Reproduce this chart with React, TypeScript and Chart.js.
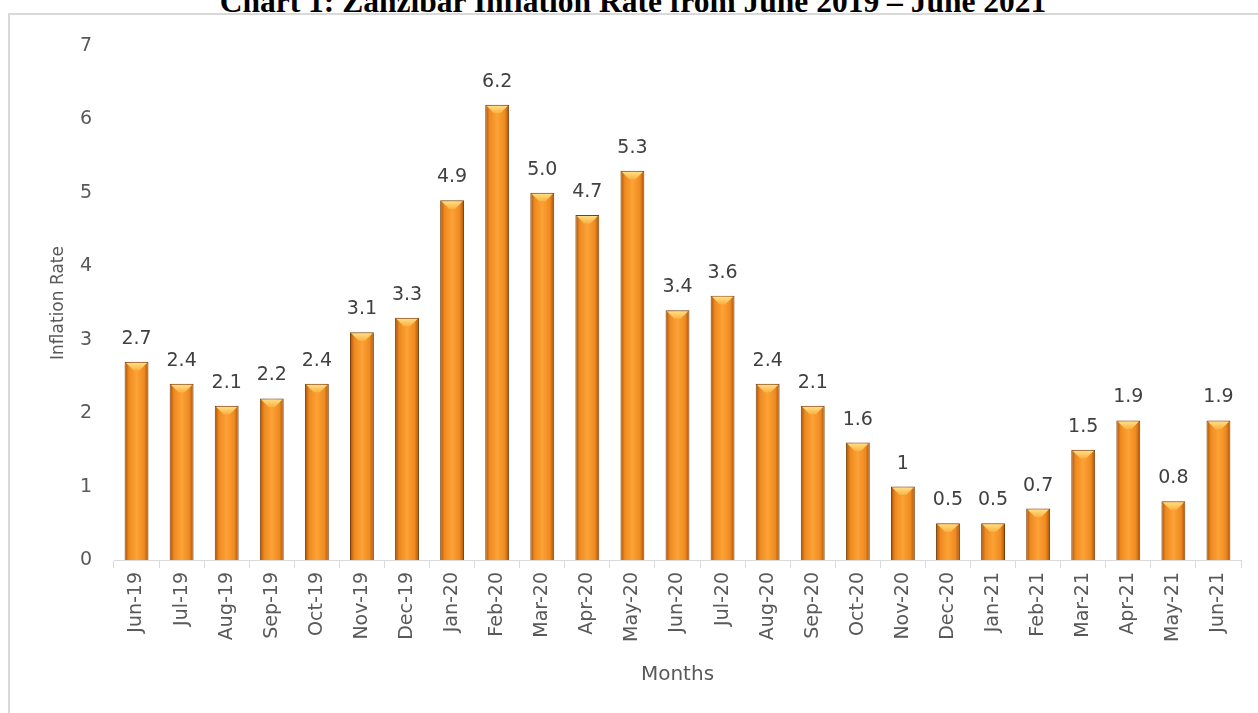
import React, { useEffect, useRef } from "react";
import { Chart, registerables } from "chart.js";

Chart.register(...registerables);

const chartTitle = "Chart 1: Zanzibar Inflation Rate from June 2019 \u2013 June 2021";
const xAxisTitle = "Months";
const yAxisTitle = "Inflation Rate";

const months = [
  "Jun-19", "Jul-19", "Aug-19", "Sep-19", "Oct-19", "Nov-19", "Dec-19",
  "Jan-20", "Feb-20", "Mar-20", "Apr-20", "May-20", "Jun-20", "Jul-20",
  "Aug-20", "Sep-20", "Oct-20", "Nov-20", "Dec-20", "Jan-21", "Feb-21",
  "Mar-21", "Apr-21", "May-21", "Jun-21",
];

const inflation = [
  2.7, 2.4, 2.1, 2.2, 2.4, 3.1, 3.3,
  4.9, 6.2, 5.0, 4.7, 5.3, 3.4, 3.6,
  2.4, 2.1, 1.6, 1, 0.5, 0.5, 0.7,
  1.5, 1.9, 0.8, 1.9,
];

const valueLabels = [
  "2.7", "2.4", "2.1", "2.2", "2.4", "3.1", "3.3",
  "4.9", "6.2", "5.0", "4.7", "5.3", "3.4", "3.6",
  "2.4", "2.1", "1.6", "1", "0.5", "0.5", "0.7",
  "1.5", "1.9", "0.8", "1.9",
];

const yMin = 0;
const yMax = 7;
const yStep = 1;

const BAR_FRACTION = 0.53;
const FONT = '"DejaVu Sans", sans-serif';

const barDecor = {
  id: "barDecor",
  afterDatasetsDraw(chart: any) {
    const ctx = chart.ctx as CanvasRenderingContext2D;
    const meta = chart.getDatasetMeta(0);
    meta.data.forEach((el: any, i: number) => {
      const { x, y, width } = el.getProps(["x", "y", "width"], true);
      if (![x, y, width].every((v) => Number.isFinite(v))) return;
      const hw = width / 2 - 1.5;
      ctx.save();
      const g = ctx.createLinearGradient(0, y, 0, y + 8);
      g.addColorStop(0, "#FFE58E");
      g.addColorStop(1, "#FBB445");
      ctx.fillStyle = g;
      ctx.beginPath();
      ctx.moveTo(x - hw, y + 1.2);
      ctx.lineTo(x + hw, y + 1.2);
      ctx.lineTo(x + hw * 0.3, y + 8.5);
      ctx.lineTo(x - hw * 0.3, y + 8.5);
      ctx.closePath();
      ctx.fill();
      ctx.fillStyle = "#404040";
      ctx.font = `19px ${FONT}`;
      ctx.textAlign = "center";
      ctx.textBaseline = "alphabetic";
      ctx.fillText(valueLabels[i], x, y - 18);
      ctx.restore();
    });
  },
};

export default function App() {
  const ref = useRef<HTMLCanvasElement | null>(null);

  useEffect(() => {
    if (!ref.current) return;
    const chart = new Chart(ref.current, {
      type: "bar",
      data: {
        labels: months,
        datasets: [
          {
            label: "Inflation Rate",
            data: inflation,
            categoryPercentage: 1,
            barPercentage: BAR_FRACTION,
            borderColor: "#7A3F0A",
            borderWidth: 1,
            borderSkipped: "bottom",
            backgroundColor: (c: any) => {
              const ch = c.chart;
              const xs = ch.scales && ch.scales.x;
              if (!xs || c.dataIndex === undefined) return "#F39425";
              const cx = xs.getPixelForValue(c.dataIndex);
              const hw = ((xs.width / months.length) * BAR_FRACTION) / 2;
              if (!Number.isFinite(cx) || !Number.isFinite(hw) || hw <= 0) return "#F39425";
              const g = ch.ctx.createLinearGradient(cx - hw, 0, cx + hw, 0);
              g.addColorStop(0, "#A84F0A");
              g.addColorStop(0.18, "#EE8A1F");
              g.addColorStop(0.5, "#FCA236");
              g.addColorStop(0.82, "#EE8A1F");
              g.addColorStop(1, "#A84F0A");
              return g;
            },
          },
        ],
      },
      options: {
        responsive: false,
        animation: false,
        layout: { padding: { top: 46, right: 17, left: 0, bottom: 0 } },
        plugins: {
          legend: { display: false },
          tooltip: { enabled: false },
          title: { display: false },
        },
        scales: {
          x: {
            grid: {
              display: true,
              drawOnChartArea: false,
              drawTicks: true,
              tickLength: 8,
              color: "#D9D9D9",
            },
            border: { display: true, color: "#D9D9D9", width: 1 },
            ticks: {
              color: "#595959",
              font: { family: FONT, size: 19 },
              minRotation: 90,
              maxRotation: 90,
              autoSkip: false,
              padding: 4,
            },
            title: {
              display: true,
              text: xAxisTitle,
              color: "#595959",
              font: { family: FONT, size: 20 },
              padding: { top: 0, bottom: 26 },
            },
            afterFit: (s: any) => {
              s.height = 153;
            },
          },
          y: {
            min: yMin,
            max: yMax,
            grid: { display: false, drawTicks: false },
            border: { display: false },
            ticks: {
              stepSize: yStep,
              color: "#595959",
              font: { family: FONT, size: 19 },
              padding: 22,
            },
            title: {
              display: true,
              text: yAxisTitle,
              color: "#595959",
              font: { family: FONT, size: 17 },
              padding: { top: 48, bottom: 0 },
            },
            afterFit: (s: any) => {
              s.width = 114;
            },
          },
        },
      },
      plugins: [barDecor],
    });
    chart.update();
    return () => chart.destroy();
  }, []);

  return (
    <div
      style={{
        position: "fixed",
        left: 0,
        top: 0,
        width: 1258,
        height: 713,
        overflow: "hidden",
        background: "#ffffff",
      }}
    >
      <div
        style={{
          position: "absolute",
          left: 0,
          top: -14.4,
          width: 1266,
          textAlign: "center",
          fontFamily: '"Liberation Serif", "Times New Roman", serif',
          fontWeight: "bold",
          fontSize: 31.5,
          lineHeight: "31.5px",
          color: "#000",
          whiteSpace: "nowrap",
        }}
      >
        {chartTitle}
      </div>
      <div
        style={{
          position: "absolute",
          left: 8,
          top: 13,
          width: 1320,
          height: 800,
          border: "2px solid #D9D9D9",
          boxSizing: "border-box",
        }}
      />
      <canvas
        ref={ref}
        width={1258}
        height={713}
        style={{ position: "absolute", left: 0, top: 0, width: 1258, height: 713 }}
      />
    </div>
  );
}
